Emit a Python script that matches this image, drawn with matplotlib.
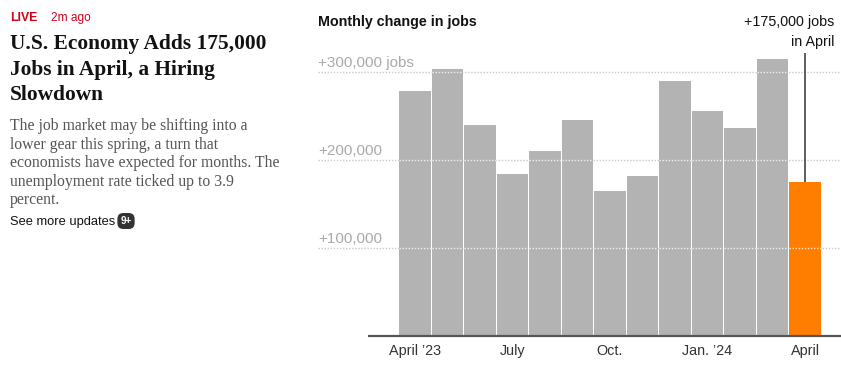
import matplotlib
matplotlib.use("Agg")
import matplotlib.pyplot as plt

# ---------------- data ----------------
months = ["Apr 2023", "May", "Jun", "Jul", "Aug", "Sep", "Oct", "Nov", "Dec",
          "Jan 2024", "Feb", "Mar", "Apr 2024"]
jobs = [278000, 303000, 240000, 184000, 210000, 246000, 165000, 182000,
        290000, 256000, 236000, 315000, 175000]
tick_idx = [0, 3, 6, 9, 12]
tick_labels = ["April \u201923", "July", "Oct.", "Jan. \u201924", "April"]
grid_vals = [100000, 200000, 300000]
grid_labels = ["+100,000", "+200,000", "+300,000 jobs"]

headline = ["U.S. Economy Adds 175,000", "Jobs in April, a Hiring", "Slowdown"]
body = ["The job market may be shifting into a",
        "lower gear this spring, a turn that",
        "economists have expected for months. The",
        "unemployment rate ticked up to 3.9",
        "percent."]

W, H = 841, 371
fig = plt.figure(figsize=(W / 100, H / 100), dpi=100)
fig.patch.set_facecolor("white")


def P(x, y):
    return x / W, 1 - y / H


SANS = ["Liberation Sans", "DejaVu Sans"]
SERIF = ["Liberation Serif", "DejaVu Serif"]

# ---------------- left text column ----------------
fig.text(*P(10, 21), "LIVE", color="#d0021b", fontsize=8.8, fontweight="bold",
         family=SANS, va="baseline", ha="left")
fig.text(*P(51, 21), "2m ago", color="#d0021b", fontsize=8.6,
         family=SANS, va="baseline", ha="left")
for i, line in enumerate(headline):
    fig.text(*P(10, 49 + 25.5 * i), line, color="#121212", fontsize=15.4,
             fontweight="bold", family=SERIF, va="baseline", ha="left")
for i, line in enumerate(body):
    fig.text(*P(10, 130 + 18.6 * i), line, color="#555555", fontsize=11.3,
             family=SERIF, va="baseline", ha="left")
fig.text(*P(10, 225), "See more updates", color="#121212", fontsize=9.3,
         family=SANS, va="baseline", ha="left")
fig.text(*P(126, 224), "9+", color="white", fontsize=7.2, fontweight="bold",
         family=SANS, va="baseline", ha="center",
         bbox=dict(boxstyle="round,pad=0.3,rounding_size=0.6",
                   facecolor="#333333", edgecolor="none"))

# ---------------- chart ----------------
pitch = 32.5
c0 = 415.0
x_left_px, x_right_px = 318, 841
zero_px, per100k = 336, 88.0
top_px = 0

ax = fig.add_axes([x_left_px / W, 1 - zero_px / H,
                   (x_right_px - x_left_px) / W, (zero_px - top_px) / H])
ax.set_xlim((x_left_px - c0) / pitch, (x_right_px - c0) / pitch)
ax.set_ylim(0, (zero_px - top_px) / per100k * 100000)
ax.axis("off")

xs = list(range(len(jobs)))
colors = ["#b3b3b3"] * (len(jobs) - 1) + ["#ff7e00"]
bw = 0.955
ax.bar(xs, jobs, width=bw, color=colors, zorder=2, linewidth=0)

xl = ax.get_xlim()
for gv, gl in zip(grid_vals, grid_labels):
    ax.hlines(gv, xl[0], xl[1], colors="#c8c8c8", linestyles=(0, (1, 1.2)),
              linewidth=1.0, zorder=1)
    ax.text(xl[0], gv + 5 / per100k * 100000, gl, color="#aaaaaa", fontsize=11,
            family=SANS, va="baseline", ha="left", zorder=4)
    for x, v in zip(xs, jobs):
        if v > gv:
            ax.hlines(gv, x - bw / 2, x + bw / 2, colors="#ffffff",
                      linestyles=(0, (1, 1.2)), linewidth=1.0, zorder=3, alpha=0.8)

# baseline
base_start = (368 - c0) / pitch
ax.hlines(0, base_start, xl[1], colors="#555555", linewidth=1.6, zorder=5,
          clip_on=False)

# tick labels
for i, lab in zip(tick_idx, tick_labels):
    ax.text(i, -19 / per100k * 100000, lab, color="#333333", fontsize=10.4,
            family=SANS, va="baseline", ha="center", clip_on=False)

# annotation
last = len(jobs) - 1
ax.vlines(last, jobs[last], (zero_px - 53) / per100k * 100000, colors="#333333",
          linewidth=1.1, zorder=4)
fig.text(*P(834, 26), "+175,000 jobs", color="#121212", fontsize=10.3,
         family=SANS, va="baseline", ha="right")
fig.text(*P(834, 46), "in April", color="#121212", fontsize=10.3,
         family=SANS, va="baseline", ha="right")

fig.text(*P(318, 26), "Monthly change in jobs", color="#121212", fontsize=10.3,
         fontweight="bold", family=SANS, va="baseline", ha="left")

fig.savefig("out.png", dpi=100, facecolor="white")
